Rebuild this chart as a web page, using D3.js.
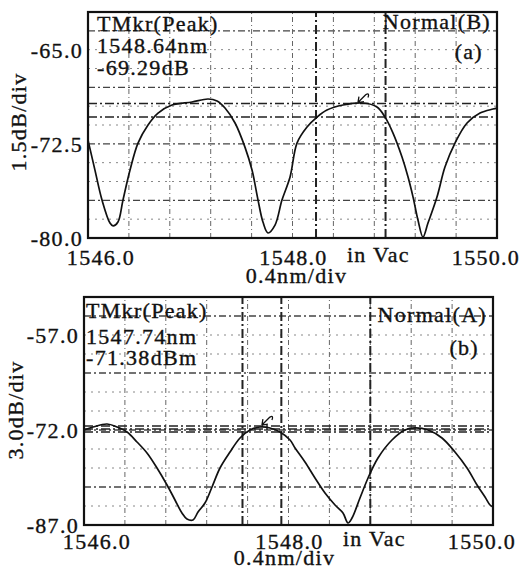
<!DOCTYPE html>
<html>
<head>
<meta charset="utf-8">
<script src="https://cdn.jsdelivr.net/npm/d3@7"></script>
<style>
  html, body { margin: 0; padding: 0; background: #fff; }
  svg text { font-family: "Liberation Serif", "Times New Roman", serif; font-size: 22px; letter-spacing: 1.3px; fill: #111; stroke: #111; stroke-width: 0.35px; }
</style>
</head>
<body>
<script>

// panel (a): wavelength in nm, power in dB
const topWl = [1546.000, 1546.068, 1546.137, 1546.215, 1546.245, 1546.293, 1546.342, 1546.411, 1546.489,
  1546.587, 1546.685, 1546.822, 1547.017, 1547.174, 1547.262, 1547.340, 1547.438, 1547.535, 1547.604,
  1547.663, 1547.711, 1547.760, 1547.829, 1547.897, 1547.976, 1548.044, 1548.142, 1548.240, 1548.337,
  1548.494, 1548.690, 1548.826, 1548.905, 1548.983, 1549.071, 1549.130, 1549.179, 1549.227, 1549.276,
  1549.325, 1549.413, 1549.491, 1549.589, 1549.707, 1549.834, 1549.961, 1550.000];
const topDb = [-72.20, -74.59, -76.98, -78.81, -79.04, -78.73, -76.98, -74.59, -72.44,
  -71.00, -70.05, -69.41, -69.17, -68.93, -69.09, -69.65, -70.84, -72.76, -74.59,
  -76.98, -78.73, -79.60, -78.97, -76.98, -75.14, -72.44, -71.16, -70.37, -69.81,
  -69.41, -69.25, -69.57, -70.37, -71.64, -73.55, -75.14, -76.74, -78.57, -79.92,
  -78.81, -76.74, -74.35, -72.44, -70.84, -70.05, -69.73, -69.65];

// panel (b): wavelength in nm, power in dBm
const botWl = [1546.000, 1546.088, 1546.225, 1546.323, 1546.421, 1546.518, 1546.616, 1546.714, 1546.812,
  1546.890, 1546.958, 1547.007, 1547.066, 1547.115, 1547.183, 1547.252, 1547.330, 1547.428, 1547.526,
  1547.623, 1547.721, 1547.819, 1547.917, 1548.015, 1548.064, 1548.161, 1548.259, 1548.357, 1548.455,
  1548.533, 1548.582, 1548.621, 1548.699, 1548.778, 1548.875, 1549.012, 1549.139, 1549.237, 1549.364,
  1549.501, 1549.628, 1549.746, 1549.844, 1549.922, 1549.971, 1550.000];
const botDb = [-72.00, -71.53, -71.05, -71.53, -72.32, -73.89, -75.63, -78.00, -80.68,
  -83.05, -85.11, -86.05, -86.21, -84.95, -83.53, -81.00, -78.00, -75.47, -73.26,
  -72.00, -71.53, -71.68, -72.32, -73.58, -74.84, -77.05, -79.58, -81.95, -83.84,
  -85.11, -86.68, -85.90, -82.74, -79.58, -76.42, -73.58, -72.00, -71.68, -72.00,
  -73.26, -75.47, -78.00, -80.68, -82.58, -83.84, -84.16];

const xTicks = [1546.0, 1548.0, 1550.0];
const topYTicks = [-65.0, -72.5, -80.0];
const botYTicks = [-57.0, -72.0, -87.0];

// marker readouts and marker lines
const topMarker = { wl: 1548.64, db: -69.29 };
const botMarker = { wl: 1547.74, db: -71.38 };
const topMarkerLevels = [-69.29, -70.37];
const botMarkerLevels = [-71.38, -71.85, -72.30];
const topMarkerWl = [1548.23, 1548.91];
const botMarkerWl = [1547.55, 1547.93, 1548.80];

const topLabels = ["TMkr(Peak)", "1548.64nm", "-69.29dB"];
const botLabels = ["TMkr(Peak)", "1547.74nm", "-71.38dBm"];

const svg = d3.select("body").append("svg")
    .attr("width", 522)
    .attr("height", 570);

function drawPanel(cfg) {
  let x = d3.scaleLinear().domain([1546, 1550]).range([cfg.left, cfg.left + cfg.width]);
  let y = d3.scaleLinear().domain(cfg.yDomain).range([cfg.top + cfg.height, cfg.top]);
  let g = svg.append("g");

  // grid: 10 x divisions, 12 y divisions
  let hs = d3.range(1, 12).map(i => ({ v: cfg.yDomain[0] + i * cfg.step, major: i % 3 === 2 }));
  g.selectAll(".hgrid").data(hs)
    .enter().append("line")
      .attr("class", "hgrid")
      .attr("x1", x(1546)).attr("x2", x(1550))
      .attr("y1", d => y(d.v)).attr("y2", d => y(d.v))
      .attr("stroke", d => d.major ? "#444" : "#888")
      .attr("stroke-width", d => d.major ? 1.3 : 1)
      .attr("stroke-dasharray", d => d.major ? "7,3,2,3" : "2,5");

  let vs = d3.range(1, 10).map(i => 1546 + i * 0.4);
  g.selectAll(".vgrid").data(vs)
    .enter().append("line")
      .attr("class", "vgrid")
      .attr("x1", d => x(d)).attr("x2", d => x(d))
      .attr("y1", y(cfg.yDomain[0])).attr("y2", y(cfg.yDomain[1]))
      .attr("stroke", "#666")
      .attr("stroke-width", 1)
      .attr("stroke-dasharray", "5,3,1,3");

  // marker lines
  g.selectAll(".mh").data(cfg.markerLevels)
    .enter().append("line")
      .attr("x1", x(1546)).attr("x2", x(1550))
      .attr("y1", d => y(d)).attr("y2", d => y(d))
      .attr("stroke", "#222")
      .attr("stroke-width", 1.5)
      .attr("stroke-dasharray", "9,3,2,3");
  g.selectAll(".mv").data(cfg.markerWl)
    .enter().append("line")
      .attr("x1", d => x(d)).attr("x2", d => x(d))
      .attr("y1", y(cfg.yDomain[0])).attr("y2", y(cfg.yDomain[1]))
      .attr("stroke", "#222")
      .attr("stroke-width", 2)
      .attr("stroke-dasharray", "9,3,2,3");

  // trace
  let pts = cfg.wl.map((w, i) => [w, cfg.db[i]]);
  g.append("path")
      .datum(pts)
      .attr("fill", "none")
      .attr("stroke", "#111")
      .attr("stroke-width", 1.7)
      .attr("d", d3.line().x(d => x(d[0])).y(d => y(d[1])).curve(d3.curveCatmullRom));

  // peak marker arrow
  let mx = x(cfg.marker.wl), my = y(cfg.marker.db);
  g.append("path")
      .attr("d", `M${mx},${my - 1} L${mx + 8},${my - 9} M${mx},${my - 1} L${mx + 6},${my - 2} M${mx},${my - 1} L${mx + 1},${my - 7} M${mx + 8},${my - 9} q4,-2 2,3`)
      .attr("fill", "none")
      .attr("stroke", "#111")
      .attr("stroke-width", 1.3);

  // frame
  g.append("rect")
      .attr("x", cfg.left).attr("y", cfg.top)
      .attr("width", cfg.width).attr("height", cfg.height)
      .attr("fill", "none")
      .attr("stroke", "#111")
      .attr("stroke-width", 2.2);

  // y tick labels
  g.selectAll(".ylab").data(cfg.yTicks)
    .enter().append("text")
      .attr("x", cfg.left - 5)
      .attr("y", d => y(d))
      .attr("dy", "0.36em")
      .style("text-anchor", "end")
      .text(d => d.toFixed(1));

  // x tick labels (OSA style: first/last pulled inwards)
  let xOff = [13, 1, -11];
  g.selectAll(".xlab").data(xTicks)
    .enter().append("text")
      .attr("x", (d, i) => x(d) + xOff[i])
      .attr("y", cfg.top + cfg.height + cfg.xLabelDy)
      .style("text-anchor", "middle")
      .text(d => d.toFixed(1));

  g.append("text")
      .attr("x", x(1548.84))
      .attr("y", cfg.top + cfg.height + cfg.xLabelDy - 3)
      .style("text-anchor", "middle")
      .text("in Vac");

  g.append("text")
      .attr("x", x(1548) + cfg.unitDx)
      .attr("y", cfg.top + cfg.height + cfg.xLabelDy + cfg.unitDy)
      .style("text-anchor", "middle")
      .text("0.4nm/div");

  g.append("text")
      .attr("transform", `translate(${cfg.yTitleX},${cfg.yTitleY}) rotate(-90)`)
      .style("text-anchor", "middle")
      .text(cfg.yTitle);

  // readouts
  g.selectAll(".read").data(cfg.labels)
    .enter().append("text")
      .attr("x", cfg.left + cfg.readDx)
      .attr("y", (d, i) => cfg.top + cfg.readY[i])
      .text(d => d);

  g.append("text")
      .attr("x", cfg.left + cfg.width - 6)
      .attr("y", cfg.top + cfg.modeY)
      .style("text-anchor", "end")
      .text(cfg.mode);
  g.append("text")
      .attr("x", cfg.left + cfg.width - 14)
      .attr("y", cfg.top + cfg.tagY)
      .style("text-anchor", "end")
      .text(cfg.tag);
}

drawPanel({
  left: 88, top: 12, width: 409, height: 226,
  yDomain: [-80, -62], step: 1.5, yTicks: topYTicks, yTitle: "1.5dB/div",
  yTitleX: 26, yTitleY: 122,
  wl: topWl, db: topDb, marker: topMarker,
  markerLevels: topMarkerLevels, markerWl: topMarkerWl,
  xLabelDy: 27, unitDx: 4, unitDy: 18,
  labels: topLabels, readDx: 9, readY: [19, 41, 63],
  mode: "Normal(B)", modeY: 17, tag: "(a)", tagY: 47
});

drawPanel({
  left: 84, top: 297, width: 409, height: 228,
  yDomain: [-87, -51], step: 3, yTicks: botYTicks, yTitle: "3.0dB/div",
  yTitleX: 23, yTitleY: 410,
  wl: botWl, db: botDb, marker: botMarker,
  markerLevels: botMarkerLevels, markerWl: botMarkerWl,
  xLabelDy: 24, unitDx: -4, unitDy: 16,
  labels: botLabels, readDx: 2, readY: [21, 47, 68],
  mode: "Normal(A)", modeY: 25, tag: "(b)", tagY: 58
});

</script>
</body>
</html>
